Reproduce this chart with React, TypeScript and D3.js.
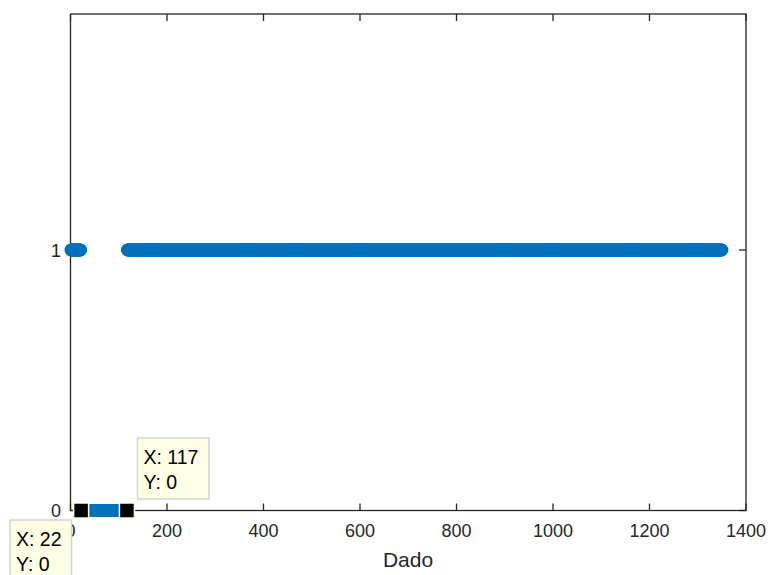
import React from "react";
import * as d3 from "d3";

// Data: value of each "Dado" index (1..1350); indices 22..117 are 0, all others 1
const N = 1350;
const zeroStart = 22;
const zeroEnd = 117;
const dataX: number[] = d3.range(1, N + 1);
const dataY: number[] = dataX.map((i) => (i >= zeroStart && i <= zeroEnd ? 0 : 1));

const xTicks = [0, 200, 400, 600, 800, 1000, 1200, 1400];
const yTicks = [0, 1];
const xLabel = "Dado";

// Data tips
const tipX = [117, 22];
const tipY = [0, 0];

const W = 770;
const H = 575;
const FONT = "'Liberation Sans', Arial, Helvetica, sans-serif";

export default function App() {
  const x = d3.scaleLinear().domain([0, 1400]).range([70.5, 746]);
  const y = d3.scaleLinear().domain([0, 1.906]).range([510.5, 14]);
  const axisColor = "#262626";
  const tickLen = 7;
  const [x0, x1] = x.range();
  const [y0, y1] = y.range();
  const blue = "#0072BD";

  const tipBoxes = [
    { bx: 137.5, by: 438, bw: 71.5, bh: 61 },
    { bx: 10, by: 520, bw: 61.5, bh: 62 },
  ];

  return (
    <div style={{ position: "absolute", left: 0, top: 0 }}>
      <svg width={W} height={H} style={{ display: "block", background: "#fff" }}>
        {/* axes box */}
        <rect x={x0} y={y1} width={x1 - x0} height={y0 - y1} fill="none" stroke={axisColor} strokeWidth={1.3} />
        {xTicks.map((t) => (
          <g key={"xt" + t}>
            <line x1={x(t)} x2={x(t)} y1={y0} y2={y0 - tickLen} stroke={axisColor} strokeWidth={1.3} />
            <line x1={x(t)} x2={x(t)} y1={y1} y2={y1 + tickLen} stroke={axisColor} strokeWidth={1.3} />
            <text x={x(t)} y={536.5} textAnchor="middle" fontFamily={FONT} fontSize={18} fill={axisColor}>
              {t}
            </text>
          </g>
        ))}
        {yTicks.map((t) => (
          <g key={"yt" + t}>
            <line x1={x0} x2={x0 + tickLen} y1={y(t)} y2={y(t)} stroke={axisColor} strokeWidth={1.3} />
            <line x1={x1} x2={x1 - tickLen} y1={y(t)} y2={y(t)} stroke={axisColor} strokeWidth={1.3} />
            <text x={61} y={y(t) + 6.5} textAnchor="end" fontFamily={FONT} fontSize={18} fill={axisColor}>
              {t}
            </text>
          </g>
        ))}
        <text x={408} y={567} textAnchor="middle" fontFamily={FONT} fontSize={21} fill={axisColor}>
          {xLabel}
        </text>

        {/* data markers */}
        <g>
          {dataX.map((d, i) => (
            <circle key={i} cx={x(d)} cy={y(dataY[i])} r={6.5} fill={blue} />
          ))}
        </g>

        {/* data tip markers */}
        {tipX.map((d, i) => (
          <rect
            key={"tm" + i}
            x={x(d) - 7.5}
            y={y(tipY[i]) - 7.5}
            width={15}
            height={15}
            fill="#000"
            stroke="#FFFFD8"
            strokeWidth={1.5}
          />
        ))}

        {/* data tip boxes */}
        {tipX.map((d, i) => {
          const b = tipBoxes[i];
          return (
            <g key={"tb" + i}>
              <rect x={b.bx} y={b.by} width={b.bw} height={b.bh} fill="#FFFFE6" stroke="#D4D4D0" strokeWidth={1.5} />
              <text x={b.bx + 6} y={b.by + 25.5} fontFamily={FONT} fontSize={19.5} fill="#000">
                {"X: " + d}
              </text>
              <text x={b.bx + 6} y={b.by + 51} fontFamily={FONT} fontSize={19.5} fill="#000">
                {"Y: " + tipY[i]}
              </text>
            </g>
          );
        })}
      </svg>
    </div>
  );
}
